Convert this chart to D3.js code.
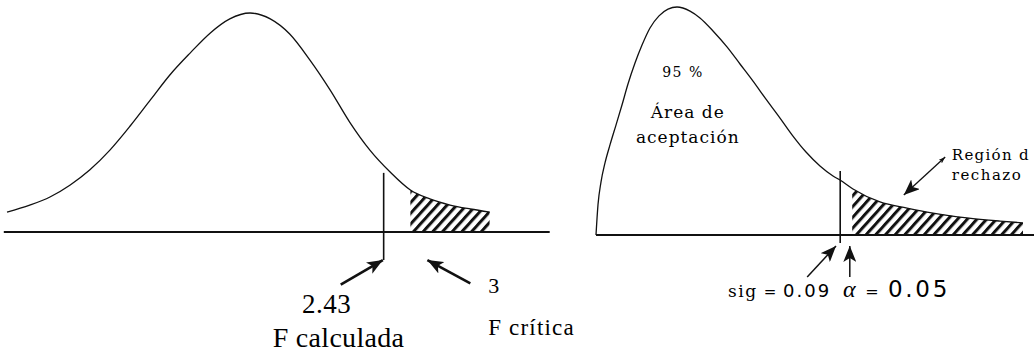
<!DOCTYPE html>
<html>
<head>
<meta charset="utf-8">
<script src="https://cdn.jsdelivr.net/npm/d3@7"></script>
<style>
  body { margin: 0; background: #fff; }
  svg { display: block; }
</style>
</head>
<body>
<svg width="1034" height="355"></svg>
<script>
// left panel: bell shaped F curve, x in sd units, y as share of the peak
const leftCurveX = [-3.0, -2.72, -2.47, -2.22, -1.98, -1.73, -1.48, -1.23, -0.99, -0.74, -0.49, -0.25, 0,
  0.25, 0.49, 0.74, 0.99, 1.23, 1.48, 1.73, 1.98, 2.22, 2.47, 2.72, 2.96];
const leftCurveY = [0.091, 0.123, 0.16, 0.215, 0.283, 0.374, 0.484, 0.603, 0.717, 0.817, 0.909, 0.973, 1.0,
  0.973, 0.904, 0.785, 0.648, 0.502, 0.374, 0.274, 0.192, 0.151, 0.123, 0.105, 0.091];
// F calculada, start and end of the rejection tail
const leftCuts = [1.65, 1.98, 2.96];
const leftLabels = ["2.43", "F calculada", "3", "F crítica"];

// right panel: skewed F curve
const rightCurveX = [0, 0.033, 0.083, 0.15, 0.233, 0.333, 0.433, 0.533, 0.65, 0.767, 0.9, 1.05, 1.2, 1.35,
  1.567, 1.733, 1.95, 2.183, 2.4, 2.617, 2.833, 3.067, 3.283, 3.5, 3.733, 3.95, 4.067, 4.283, 4.733,
  5.183, 5.617, 6.183, 6.733, 7.117];
const rightCurveY = [0, 0.132, 0.232, 0.316, 0.395, 0.482, 0.57, 0.662, 0.754, 0.833, 0.908, 0.961, 0.991, 1.0,
  0.982, 0.952, 0.895, 0.825, 0.75, 0.675, 0.596, 0.513, 0.434, 0.364, 0.303, 0.259, 0.241, 0.202, 0.145,
  0.118, 0.096, 0.075, 0.061, 0.053];
// sig line, start and end of the rejection tail
const rightCuts = [4.07, 4.27, 7.12];
const rightLabels = ["95 %", "Área de", "aceptación", "Región d", "rechazo", "sig", "=", "0.09", "α", "=", "0.05"];

const svg = d3.select("svg");
const ink = "#111";
const fonts = {
  times: "Liberation Serif",
  slab: "DejaVu Serif",
  sans: "DejaVu Sans"
};

// hatching for the rejection regions
const defs = svg.append("defs");
defs.append("pattern")
  .attr("id", "hatch")
  .attr("patternUnits", "userSpaceOnUse")
  .attr("width", 7.2)
  .attr("height", 10)
  .attr("patternTransform", "rotate(42)")
  .append("rect")
  .attr("width", 3)
  .attr("height", 10)
  .attr("fill", ink);

// arrowheads
function head(id, len, wid) {
  defs.append("marker")
    .attr("id", id)
    .attr("markerUnits", "userSpaceOnUse")
    .attr("viewBox", `0 0 ${len} ${wid}`)
    .attr("markerWidth", len)
    .attr("markerHeight", wid)
    .attr("refX", len)
    .attr("refY", wid / 2)
    .attr("orient", "auto-start-reverse")
    .append("path")
    .attr("d", `M0,0L${len},${wid / 2}L0,${wid}L${len * 0.25},${wid / 2}Z`)
    .attr("fill", ink);
}
head("big", 16, 13);
head("small", 7, 5);

function arrow(g, x, y, a, b, opts) {
  g.append("line")
    .attr("x1", x(a[0])).attr("y1", y(a[1]))
    .attr("x2", x(b[0])).attr("y2", y(b[1]))
    .attr("stroke", ink)
    .attr("stroke-width", opts.w)
    .attr("marker-end", "url(#big)")
    .attr("marker-start", opts.both ? "url(#small)" : null);
}

function panel(cfg) {
  const x = d3.scaleLinear().domain(cfg.xDomain).range(cfg.xRange);
  const y = d3.scaleLinear().domain([0, 1]).range(cfg.yRange);
  const g = svg.append("g");
  const pts = cfg.xs.map((d, i) => [d, cfg.ys[i]]);
  const [cut, hs, he] = cfg.cuts;

  // hatched tail, clipped to the rejection range
  const clipId = "clip-" + cfg.name;
  defs.append("clipPath").attr("id", clipId)
    .append("rect")
    .attr("x", x(hs)).attr("width", x(he) - x(hs))
    .attr("y", 0).attr("height", y(0));
  g.append("path")
    .datum(pts)
    .attr("clip-path", `url(#${clipId})`)
    .attr("fill", "url(#hatch)")
    .attr("d", d3.area().curve(d3.curveMonotoneX)
      .x(d => x(d[0])).y0(y(0)).y1(d => y(d[1])));

  // baseline
  g.append("line")
    .attr("x1", x(cfg.xDomain[0])).attr("x2", x(cfg.xDomain[1]))
    .attr("y1", y(0)).attr("y2", y(0))
    .attr("stroke", ink).attr("stroke-width", 1.8);

  // curve
  g.append("path")
    .datum(pts)
    .attr("fill", "none")
    .attr("stroke", ink)
    .attr("stroke-width", 1.3)
    .attr("d", d3.line().curve(d3.curveMonotoneX).x(d => x(d[0])).y(d => y(d[1])));

  // vertical marker line
  g.append("line")
    .attr("x1", x(cut)).attr("x2", x(cut))
    .attr("y1", y(cfg.lineTop)).attr("y2", y(cfg.lineBottom))
    .attr("stroke", ink).attr("stroke-width", 1.6);

  return { g, x, y };
}

function labels(p, rows) {
  p.g.selectAll("text.lab").data(rows).join("text")
    .attr("class", "lab")
    .attr("x", d => p.x(d.x)).attr("y", d => p.y(d.y))
    .style("font-family", d => fonts[d.f])
    .style("font-size", d => d.s + "px")
    .style("letter-spacing", d => d.ls + "px")
    .style("font-style", d => d.it ? "italic" : null)
    .attr("text-anchor", d => d.a || "start")
    .attr("fill", "#000")
    .text(d => d.t);
}

// ---- left panel
const L = panel({
  name: "left", xs: leftCurveX, ys: leftCurveY, cuts: leftCuts,
  xDomain: [-3.04, 3.7], xRange: [3.8, 549.7], yRange: [232, 13],
  lineTop: 0.27, lineBottom: -0.128
});
arrow(L.g, L.x, L.y, [1.12, -0.24], [1.64, -0.128], { w: 2.6 });
arrow(L.g, L.x, L.y, [2.72, -0.235], [2.19, -0.128], { w: 2.6 });

labels(L, [
  { t: leftLabels[0], x: 0.642, y: -0.37, s: 27, ls: 0.5, f: "times" },
  { t: leftLabels[1], x: 0.28, y: -0.525, s: 28, ls: 0.3, f: "times" },
  { t: leftLabels[2], x: 2.94, y: -0.279, s: 22, ls: 0, f: "times" },
  { t: leftLabels[3], x: 2.94, y: -0.47, s: 23, ls: 1.2, f: "times" }
]);

// ---- right panel
const R = panel({
  name: "right", xs: rightCurveX, ys: rightCurveY, cuts: rightCuts,
  xDomain: [0, 7.3], xRange: [596, 1034], yRange: [235, 7],
  lineTop: 0.281, lineBottom: -0.035
});
arrow(R.g, R.x, R.y, [5.82, 0.342], [5.13, 0.175], { w: 1.3, both: true });
arrow(R.g, R.x, R.y, [3.52, -0.184], [4.0, -0.048], { w: 1.5 });
arrow(R.g, R.x, R.y, [4.23, -0.184], [4.23, -0.048], { w: 1.5 });

labels(R, [
  { t: rightLabels[0], x: 1.45, y: 0.693, s: 14, ls: 1.5, f: "slab", a: "middle" },
  { t: rightLabels[1], x: 1.53, y: 0.513, s: 17, ls: 1, f: "slab", a: "middle" },
  { t: rightLabels[2], x: 1.53, y: 0.404, s: 17, ls: 1, f: "slab", a: "middle" },
  { t: rightLabels[3], x: 5.93, y: 0.33, s: 15, ls: 1.3, f: "slab" },
  { t: rightLabels[4], x: 5.93, y: 0.24, s: 15, ls: 1.5, f: "slab" },
  { t: rightLabels[5], x: 2.2, y: -0.272, s: 17, ls: 1.5, f: "slab" },
  { t: rightLabels[6], x: 2.9, y: -0.272, s: 15, ls: 0, f: "sans", a: "middle" },
  { t: rightLabels[7], x: 3.117, y: -0.272, s: 18, ls: 2, f: "sans" },
  { t: rightLabels[8], x: 4.117, y: -0.272, s: 24, ls: 0, f: "times", it: true },
  { t: rightLabels[9], x: 4.6, y: -0.272, s: 16, ls: 0, f: "sans", a: "middle" },
  { t: rightLabels[10], x: 4.867, y: -0.272, s: 23, ls: 2.7, f: "sans" }
]);
</script>
</body>
</html>
